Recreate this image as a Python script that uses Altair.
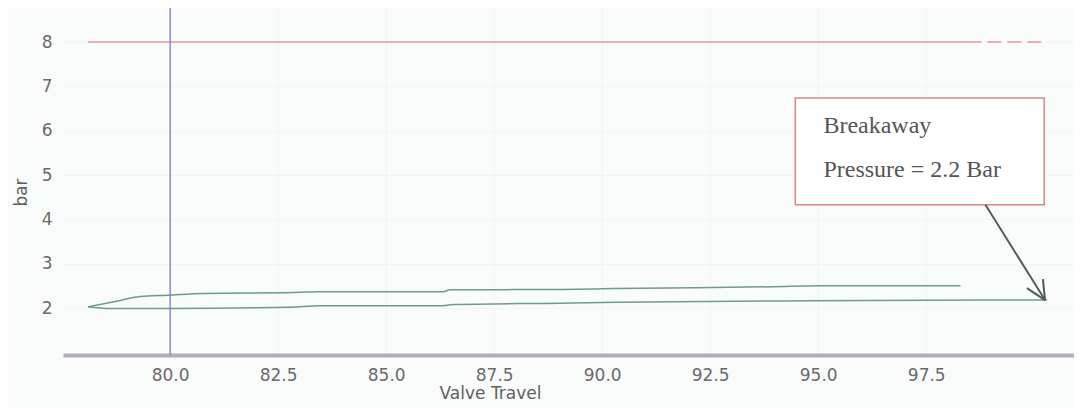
import altair as alt
import pandas as pd

# ---- data ----
upper_x = [78.10, 78.70, 79.31, 79.95, 80.76, 82.85, 83.47, 86.32, 86.48, 89.03, 90.25, 93.96, 95.05, 98.29]
upper_y = [2.03, 2.14, 2.26, 2.29, 2.33, 2.35, 2.37, 2.37, 2.41, 2.42, 2.44, 2.48, 2.50, 2.50]
lower_x = [78.10, 78.61, 80.00, 82.78, 83.47, 86.25, 86.55, 89.03, 90.35, 94.28, 98.91, 100.30]
lower_y = [2.03, 1.99, 1.99, 2.02, 2.05, 2.05, 2.08, 2.11, 2.13, 2.16, 2.18, 2.18]

red_level = 8
red_solid_x = [78.10, 98.45]
red_dash_x = [98.45, 100.30]
blue_x = [80.0]

box_x = [94.47, 100.23]
box_y = [4.33, 6.74]
text_x = [95.12, 95.12]
text_y = [6.11, 5.12]
text_labels = ["Breakaway", "Pressure = 2.2 Bar"]

arrow_x1 = [98.87, 100.25, 100.25]
arrow_y1 = [4.33, 2.18, 2.18]
arrow_x2 = [100.25, 100.20, 99.83]
arrow_y2 = [2.18, 2.65, 2.45]

x_ticks = [80.0, 82.5, 85.0, 87.5, 90.0, 92.5, 95.0, 97.5]
y_ticks = [2, 3, 4, 5, 6, 7, 8]
x_domain = [77.52, 100.92]
y_domain = [0.94, 8.77]

W, H = 1011, 347
AXIS_FONT = "DejaVu Sans"

green = pd.DataFrame(
    {"x": upper_x + lower_x,
     "y": upper_y + lower_y,
     "branch": ["up"] * len(upper_x) + ["down"] * len(lower_x)}
)
red_solid = pd.DataFrame({"x": red_solid_x, "y": [red_level] * 2})
red_dash = pd.DataFrame({"x": red_dash_x, "y": [red_level] * 2})
blue = pd.DataFrame({"x": blue_x})
box = pd.DataFrame({"x": [box_x[0]], "x2": [box_x[1]], "y": [box_y[0]], "y2": [box_y[1]]})
texts = pd.DataFrame({"x": text_x, "y": text_y, "t": text_labels})
arrow = pd.DataFrame({"x": arrow_x1, "y": arrow_y1, "x2": arrow_x2, "y2": arrow_y2})

xs = alt.Scale(domain=x_domain, nice=False, zero=False)
ys = alt.Scale(domain=y_domain, nice=False, zero=False)

X = alt.X("x:Q", scale=xs, axis=alt.Axis(
    values=x_ticks, format=".1f", title="Valve Travel", grid=True,
    gridColor="#f1f5f3", domainColor="#b3acba", domainWidth=4, ticks=False,
    labelColor="#6a6a6a", labelFontSize=17, labelPadding=12, labelFont=AXIS_FONT,
    titleFont=AXIS_FONT, titleFontSize=17, titleFontWeight="normal", titleColor="#5f5f5f",
    titlePadding=2, titleX=427))
Y = alt.Y("y:Q", scale=ys, axis=alt.Axis(
    values=y_ticks, format="d", title="bar", grid=True, gridColor="#f1f5f3",
    domain=False, ticks=False, labelColor="#6a6a6a", labelFontSize=17, labelPadding=11,
    labelFont=AXIS_FONT, titleFont=AXIS_FONT, titleFontSize=17,
    titleFontWeight="normal", titleColor="#5f5f5f", titleX=-33, titleY=184))

base_axes = alt.Chart(red_solid).mark_line(color="#e39a9c", strokeWidth=1.5).encode(x=X, y=Y)
red_d = alt.Chart(red_dash).mark_line(color="#e39a9c", strokeWidth=1.5, strokeDash=[14, 6]).encode(
    x=alt.X("x:Q", scale=xs), y=alt.Y("y:Q", scale=ys))
blue_l = alt.Chart(blue).mark_rule(color="#6d72c4", strokeWidth=1.2).encode(x=alt.X("x:Q", scale=xs))
green_l = alt.Chart(green).mark_line(color="#6f9c86", strokeWidth=1.5, interpolate="monotone").encode(
    x=alt.X("x:Q", scale=xs), y=alt.Y("y:Q", scale=ys), detail="branch:N", order=alt.Order("x:Q"))
box_r = alt.Chart(box).mark_rect(fill="#ffffff", stroke="#d98587", strokeWidth=1.5).encode(
    x=alt.X("x:Q", scale=xs), x2="x2:Q", y=alt.Y("y:Q", scale=ys), y2="y2:Q")
txt = alt.Chart(texts).mark_text(align="left", baseline="middle", font="Liberation Serif",
                                 fontSize=24, color="#555555").encode(
    x=alt.X("x:Q", scale=xs), y=alt.Y("y:Q", scale=ys), text="t:N")
arr = alt.Chart(arrow).mark_rule(color="#555a5e", strokeWidth=2).encode(
    x=alt.X("x:Q", scale=xs), y=alt.Y("y:Q", scale=ys), x2="x2:Q", y2="y2:Q")

chart = alt.layer(base_axes, red_d, blue_l, green_l, box_r, txt, arr).properties(
    width=W, height=H,
    autosize=alt.AutoSizeParams(type="none"),
    padding={"left": 55, "top": 0, "right": 0, "bottom": 53},
    background="#f9fcfb",
).configure_view(stroke=None)

chart.save("out.html", embed_options={"renderer": "svg", "actions": False})
